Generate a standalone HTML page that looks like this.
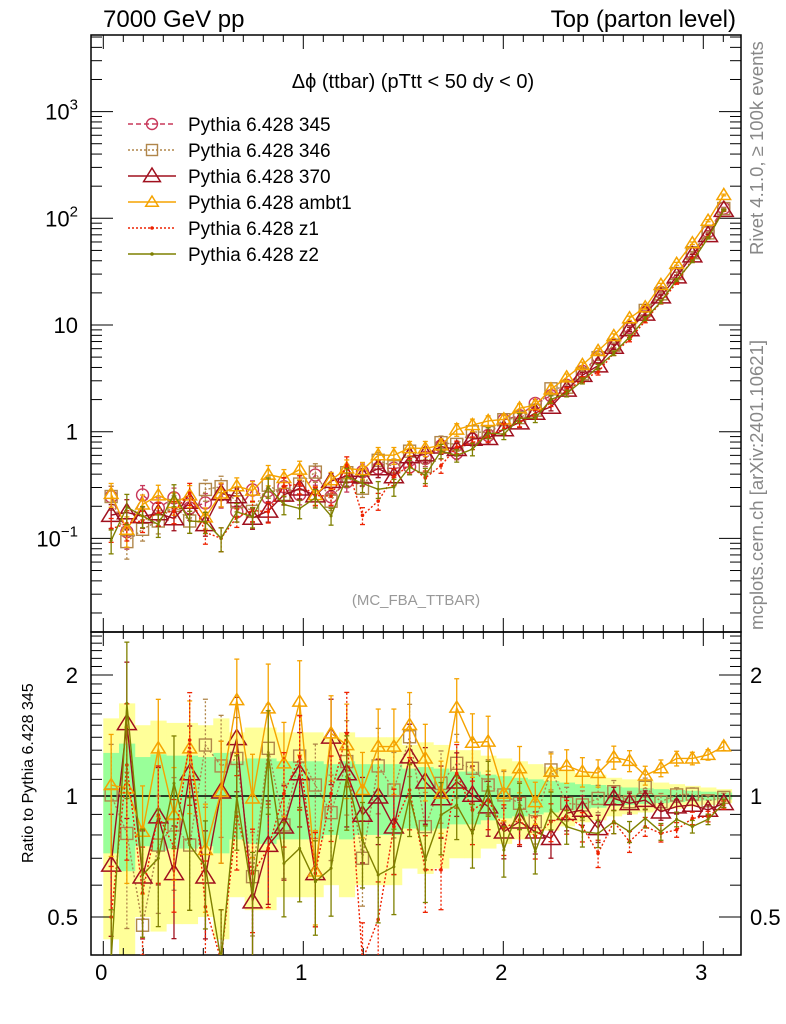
<!DOCTYPE html>
<html><head><meta charset="utf-8"><style>
html,body{margin:0;padding:0;background:#fff;}
svg{display:block;font-family:"Liberation Sans",sans-serif;}
</style></head><body>
<svg id="c" width="786" height="1024" viewBox="0 0 786 1024" xmlns="http://www.w3.org/2000/svg">
<defs>
<clipPath id="cm"><rect x="91" y="35" width="650" height="597"/></clipPath>
<clipPath id="cr"><rect x="91" y="632" width="650" height="323"/></clipPath>
</defs>
<g id="bands" clip-path="url(#cr)"></g>
<g id="grid"></g>
<g id="series"></g>
<text x="103" y="27" font-size="24">7000 GeV pp</text>
<text x="736" y="27" font-size="24" text-anchor="end">Top (parton level)</text>
<text x="413" y="88" font-size="20" text-anchor="middle">Δϕ (ttbar) (pTtt &lt; 50 dy &lt; 0)</text>
<text x="416" y="605" font-size="15" fill="#999" text-anchor="middle">(MC_FBA_TTBAR)</text>
<text transform="translate(763,255) rotate(-90)" font-size="18.5" fill="#888">Rivet 4.1.0, ≥ 100k events</text>
<text transform="translate(763,630) rotate(-90)" font-size="18.5" fill="#888">mcplots.cern.ch [arXiv:2401.10621]</text>
<text transform="translate(33,863) rotate(-90)" font-size="16">Ratio to Pythia 6.428 345</text>
<g id="legend"></g>
</svg>
<script>
// ---- data ----
const nBins = 40;
const binWidth = Math.PI / 40;
const log10Ref345 = [-0.61,-0.937,-0.593,-0.715,-0.62,-0.715,-0.668,-0.59,-0.75,-0.546,-0.62,-0.515,-0.59,-0.406,-0.61,-0.47,-0.375,-0.343,-0.343,-0.33,-0.25,-0.134,-0.2,-0.07,-0.035,0.11,0.15,0.265,0.337,0.435,0.565,0.70,0.80,0.976,1.115,1.306,1.48,1.673,1.875,2.095];
const relErr = [0.28,0.35,0.25,0.27,0.26,0.26,0.25,0.28,0.22,0.24,0.24,0.22,0.22,0.22,0.2,0.22,0.2,0.2,0.2,0.17,0.18,0.17,0.15,0.15,0.13,0.12,0.11,0.1,0.09,0.08,0.07,0.065,0.055,0.05,0.045,0.04,0.035,0.03,0.025,0.02];
const ratio346 = [1.006,.807,.477,.755,.847,.755,1.339,1.188,1.24,.63,1.314,.847,1.257,1.065,.909,1.218,.70,1.188,1.035,1.404,.839,1.075,1.206,1.172,1.065,1.006,.959,.863,1.161,.959,.95,.986,1.025,.968,1.051,.968,1.006,1.011,.973,.992];
const ratio370 = [.674,1.516,.63,.889,.642,1.138,.63,1.025,1.392,.546,.755,.839,1.138,.642,1.404,1.138,.897,.996,.839,1.253,1.085,.986,1.085,1.006,.941,.815,.863,.815,.785,.906,.923,.831,.986,.959,.977,.914,.941,.95,.923,.959];
const ratioAmbt1 = [1.065,1.045,.815,1.314,.897,1.314,.734,1.025,1.733,.986,1.653,1.206,1.717,.649,1.432,1.339,1.035,1.327,1.327,1.502,1.24,1.014,1.659,1.357,1.366,1.014,1.173,.966,1.149,1.189,1.149,1.141,1.248,1.223,1.125,1.173,1.24,1.24,1.266,1.329];
const ratioZ1 = [.5,1.194,.574,.897,.747,1.378,.53,.39,.889,.642,.741,1.014,1.253,.642,1.014,1.432,.39,.493,.839,1.035,.655,.655,1.138,.923,.977,.831,.872,.792,.863,.889,.839,.72,.863,.77,.839,.807,.824,.88,.889,.95];
const ratioZ2 = [.39,1.70,.636,.70,1.075,.755,.667,.39,.996,.562,1.265,.68,.741,.612,.661,1.117,.777,.636,.667,.996,.693,.897,.95,.807,1.055,.734,.95,.727,.923,.839,.815,.807,.863,.815,.88,.815,.875,.839,.875,.959];
const ones = new Array(40).fill(1);
const xTicks = [0,1,2,3];
const mainDecades = [-1,0,1,2,3];
const ratioTicks = [0.5,1,2];

// ---- axes ----
const NS="http://www.w3.org/2000/svg";
const X0=91,X1=741,MT=35,MB=632,RB=955;
const xp = x => 103.3 + 200*x;
const ym = v => 431.7 - 106.7*Math.log10(v);
const yr = r => 796 - 121*Math.log2(r);
function mk(tag,attrs,parent){const e=document.createElementNS(NS,tag);for(const k in attrs)e.setAttribute(k,attrs[k]);parent.appendChild(e);return e;}
const grid=document.getElementById('grid');
const bands=document.getElementById('bands');
const ser=document.getElementById('series');
const leg=document.getElementById('legend');

for(let i=0;i<nBins;i++){
  const a=xp(i*binWidth), b=xp((i+1)*binWidth);
  const e=relErr[i];
  const y1=mk('rect',{x:a,y:yr(1+2*e),width:b-a+0.5,height:yr(Math.max(1-2*e,0.05))-yr(1+2*e),fill:'#ffff99'},bands);
  
  
}
for(let i=0;i<nBins;i++){
  const a=xp(i*binWidth), b=xp((i+1)*binWidth);
  const e=relErr[i];
  const g1=mk('rect',{x:a,y:yr(1+e),width:b-a+0.5,height:yr(1-e)-yr(1+e),fill:'#99ff99'},bands);
  
  
}

mk('rect',{x:X0,y:MT,width:X1-X0,height:MB-MT,fill:'none',stroke:'#000','stroke-width':1.5},grid);
mk('rect',{x:X0,y:MB,width:X1-X0,height:RB-MB,fill:'none',stroke:'#000','stroke-width':1.5},grid);
mk('line',{x1:X0,x2:X1,y1:yr(1),y2:yr(1),stroke:'#000','stroke-width':1.5},grid);
for(let k=0;k<=31;k++){
  const v=k/10, x=xp(v); if(x<X0||x>X1) continue;
  const L = (k%10===0)?14:7;
  [[MT,1],[MB,-1],[MB,1],[RB,-1]].forEach(([y,d])=>mk('line',{x1:x,x2:x,y1:y,y2:y+d*L,stroke:'#000','stroke-width':1},grid));
}
xTicks.forEach(v=>{const t=mk('text',{x:xp(v)-2,y:980,'font-size':22,'text-anchor':'middle'},grid);t.textContent=v;
  
  });
for(let d=-2;d<=3;d++){for(let m=1;m<=9;m++){const v=m*Math.pow(10,d);const y=ym(v);if(y<MT||y>MB)continue;const L=m===1?22:11;
  mk('line',{x1:X0,x2:X0+L,y1:y,y2:y,stroke:'#000'},grid);mk('line',{x1:X1,x2:X1-L,y1:y,y2:y,stroke:'#000'},grid);}}
mainDecades.forEach(d=>{
  const y=ym(Math.pow(10,d));
  const t=mk('text',{x:78,y:y+8,'font-size':22,'text-anchor':'end'},grid);
  
  
  if(d===0) t.textContent='1';
  else if(d===1) t.textContent='10';
  else { t.textContent='10'; const s=mk('tspan',{dy:-10,'font-size':15},t); s.textContent=(d<0?'−':'')+Math.abs(d); }
});
for(let r=0.4;r<=2.6;r+=0.1){const rr=Math.round(r*10)/10;const y=yr(rr);if(y<MB||y>RB)continue;const maj=[0.5,1,2].includes(rr);const L=maj?22:11;
  mk('line',{x1:X0,x2:X0+L,y1:y,y2:y,stroke:'#000'},grid);mk('line',{x1:X1,x2:X1-L,y1:y,y2:y,stroke:'#000'},grid);}
ratioTicks.forEach(r=>{
  const t=mk('text',{x:78,y:yr(r)+8,'font-size':22,'text-anchor':'end'},grid);t.textContent=r;
  
  
  const t2=mk('text',{x:750,y:yr(r)+8,'font-size':22},grid);t2.textContent=r;
  
  
});

const series=[
 {name:'345',ratio:ones,color:'#c8385a',dash:'5,3',marker:'circle',size:6,showRatio:false},
 {name:'346',ratio:ratio346,color:'#b0864a',dash:'2,2',marker:'square',size:6},
 {name:'370',ratio:ratio370,color:'#a0101e',dash:'',marker:'tri',size:9},
 {name:'ambt1',ratio:ratioAmbt1,color:'#f5a300',dash:'',marker:'tri',size:6.5},
 {name:'z1',ratio:ratioZ1,color:'#ee2200',dash:'2,2',marker:'dot',size:1.8},
 {name:'z2',ratio:ratioZ2,color:'#7f8000',dash:'',marker:'dot',size:1.5},
];
function marker(g,m,x,y,s,c){
  if(m==='circle') mk('circle',{cx:x,cy:y,r:s,fill:'none',stroke:c,'stroke-width':1.4},g);
  else if(m==='square') mk('rect',{x:x-s,y:y-s,width:2*s,height:2*s,fill:'none',stroke:c,'stroke-width':1.4},g);
  else if(m==='tri') mk('polygon',{points:`${x},${y-s} ${x-s*1.05},${y+s*0.7} ${x+s*1.05},${y+s*0.7}`,fill:'none',stroke:c,'stroke-width':1.5},g);
  else mk('circle',{cx:x,cy:y,r:s,fill:c},g);
}
function draw(s,panel){
  const g=mk('g',{'clip-path':panel==='main'?'url(#cm)':'url(#cr)'},ser);
  
  
  const pts=[];
  for(let i=0;i<nBins;i++){
    const x=xp((i+0.5)*binWidth);
    const ref=Math.pow(10,log10Ref345[i]);
    const r=s.ratio[i], e=relErr[i];
    let y,ylo,yhi;
    if(panel==='main'){const v=ref*r;y=ym(v);ylo=ym(v*(1-e*0.9));yhi=ym(v*(1+e*0.9));}
    else{y=yr(r);ylo=yr(Math.max(r*(1-e*1.2),0.05));yhi=yr(r*(1+e*1.2));}
    pts.push([x,y]);
    mk('line',{x1:x,x2:x,y1:ylo,y2:yhi,stroke:s.color,'stroke-width':1.3,'stroke-dasharray':s.dash},g);
    mk('line',{x1:x-2.5,x2:x+2.5,y1:ylo,y2:ylo,stroke:s.color,'stroke-width':1.3},g);
    mk('line',{x1:x-2.5,x2:x+2.5,y1:yhi,y2:yhi,stroke:s.color,'stroke-width':1.3},g);
  }
  const pl=mk('polyline',{points:pts.map(p=>p.join(',')).join(' '),fill:'none',stroke:s.color,'stroke-width':1.4,'stroke-dasharray':s.dash},g);
  
  
  pts.forEach(p=>marker(g,s.marker,p[0],p[1],s.size,s.color));
}
series.forEach(s=>{draw(s,'main'); if(s.showRatio!==false) draw(s,'ratio');});

series.forEach((s,k)=>{
  const y=124+k*26;
  const g=mk('g',{},leg);
  
  
  mk('line',{x1:128,x2:176,y1:y,y2:y,stroke:s.color,'stroke-width':1.4,'stroke-dasharray':s.dash},g);
  marker(g,s.marker,152,y,s.marker==='tri'?(s.size>7?8:6):(s.marker==='dot'?1.8:5.5),s.color);
  const t=mk('text',{x:188,y:y+7,'font-size':19},g);t.textContent='Pythia 6.428 '+s.name;
});
</script>
</body></html>
